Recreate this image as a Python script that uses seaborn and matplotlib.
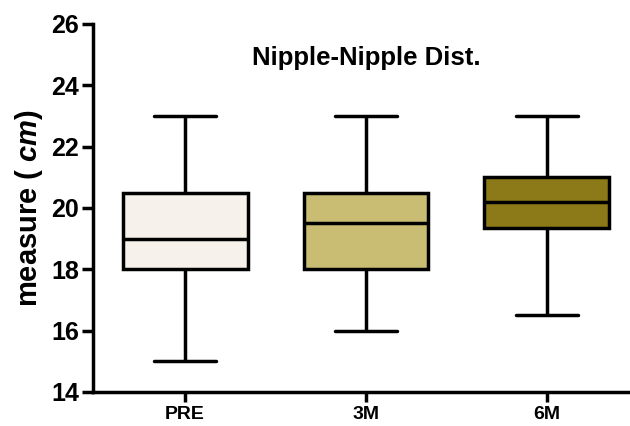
import pandas as pd
import matplotlib
matplotlib.use("Agg")
import matplotlib.pyplot as plt
import seaborn as sns

# five-number summaries (min, Q1, median, Q3, max)
groups = ["PRE", "3M", "6M"]
pre_vals = [15.0, 18.0, 19.0, 20.5, 23.0]
m3_vals = [16.0, 18.0, 19.5, 20.5, 23.0]
m6_vals = [16.5, 19.35, 20.2, 21.0, 23.0]
box_colors = ["#f6f1ea", "#c8bd73", "#8b7a17"]
title = "Nipple-Nipple Dist."
yticks = [14, 16, 18, 20, 22, 24, 26]

df = pd.DataFrame({
    "group": [g for g, v in zip(groups, [pre_vals, m3_vals, m6_vals]) for _ in v],
    "value": pre_vals + m3_vals + m6_vals,
})

sns.set_style("ticks")
plt.rcParams["font.family"] = ["Liberation Sans", "DejaVu Sans"]
plt.rcParams["text.color"] = "black"
plt.rcParams["axes.labelcolor"] = "black"
plt.rcParams["xtick.color"] = "black"
plt.rcParams["ytick.color"] = "black"
plt.rcParams["axes.edgecolor"] = "black"
plt.rcParams["mathtext.fontset"] = "custom"
plt.rcParams["mathtext.it"] = "Liberation Sans:italic:bold"
plt.rcParams["mathtext.rm"] = "Liberation Sans:bold"

fig = plt.figure(figsize=(6.3, 4.26), dpi=100)
ax = fig.add_axes([0.148, 0.080, 0.852, 0.864])

lw = 2.5
sns.boxplot(data=df, x="group", y="value", hue="group", palette=box_colors,
            order=groups, whis=(0, 100), width=0.69, legend=False, ax=ax,
            saturation=1, linecolor="black", linewidth=lw,
            medianprops={"linewidth": lw, "color": "black"},
            capprops={"linewidth": lw}, whiskerprops={"linewidth": lw})

ax.set_ylim(14, 26)
ax.set_xlim(-0.508, 2.46)
ax.set_yticks(yticks)
ax.set_xlabel("")
ax.set_ylabel("measure ( $\\mathit{cm}$)", fontsize=21, fontweight="bold", labelpad=5)
ax.tick_params(axis="y", labelsize=18, width=lw, length=8, direction="out", pad=2)
ax.tick_params(axis="x", labelsize=14, width=lw, length=7, direction="out", pad=3)
for lab in ax.get_xticklabels() + ax.get_yticklabels():
    lab.set_fontweight("bold")

sns.despine(ax=ax)
ax.spines["left"].set_linewidth(lw)
ax.spines["bottom"].set_linewidth(lw)

ax.text(1.0, 24.9, title, ha="center", va="center", fontsize=18.5, fontweight="bold")

fig.savefig("out.png", dpi=100)
